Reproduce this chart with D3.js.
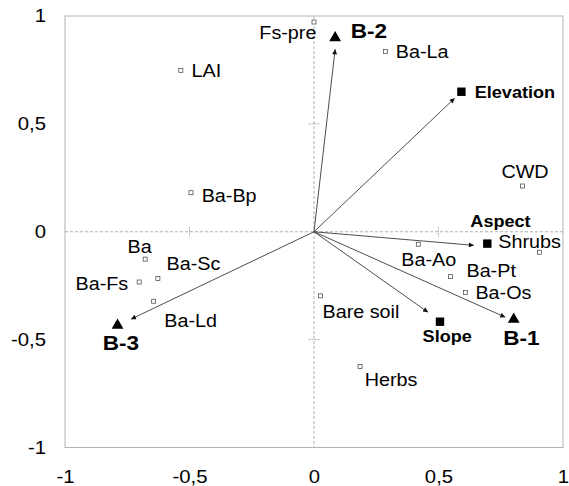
<!DOCTYPE html>
<html>
<head>
<meta charset="utf-8">
<script src="https://cdn.jsdelivr.net/npm/d3@7"></script>
<style>
html,body{margin:0;padding:0;background:#fff;}
svg{display:block;font-family:"Liberation Sans",Arial,sans-serif;}
</style>
</head>
<body>
<svg id="chart" width="569" height="486"></svg>
<script>
// ---------- data ----------
const xTicks = [-1, -0.5, 0, 0.5, 1];
const xTickLabels = ["-1", "-0,5", "0", "0,5", "1"];
const yTicks = [1, 0.5, 0, -0.5, -1];
const yTickLabels = ["1", "0,5", "0", "-0,5", "-1"];

// open squares (variables / species)
const varNames = ["Fs-pre", "LAI", "Ba-La", "Ba-Bp", "CWD", "Shrubs", "Ba-Ao", "Ba-Pt", "Ba-Os", "Bare soil", "Herbs", "Ba", "Ba-Fs", "Ba-Sc", "Ba-Ld"];
const varX = [0.000, -0.535, 0.287, -0.494, 0.837, 0.906, 0.419, 0.548, 0.608, 0.026, 0.185, -0.678, -0.702, -0.627, -0.644];
const varY = [0.972, 0.748, 0.835, 0.181, 0.212, -0.095, -0.058, -0.208, -0.282, -0.297, -0.625, -0.127, -0.233, -0.217, -0.322];

// filled squares (environmental factors)
const envNames = ["Elevation", "Aspect", "Slope"];
const envX = [0.592, 0.696, 0.506];
const envY = [0.649, -0.055, -0.417];

// triangles (plots)
const siteNames = ["B-1", "B-2", "B-3"];
const siteX = [0.802, 0.085, -0.789];
const siteY = [-0.406, 0.899, -0.434];

// arrows (from origin)
const arrowNames = ["B-2", "Elevation", "Aspect", "B-1", "Slope", "B-3"];
const arrowX = [0.085, 0.565, 0.642, 0.768, 0.458, -0.735];
const arrowY = [0.846, 0.619, -0.063, -0.396, -0.373, -0.405];

// ---------- layout / style ----------
const W = 569, H = 486;
const plot = {left: 65, right: 563, top: 16, bottom: 447.5};
const SX = 1.13; // horizontal text stretch of the original
// label offsets in px: [dx, dy, anchor]
const varLabelPos = {
  "Fs-pre": [2.4, 17.3, "end"], "LAI": [10.7, 7, "start"], "Ba-La": [10.3, 6.6, "start"],
  "Ba-Bp": [10.7, 9, "start"], "CWD": [2.6, -7.7, "middle"], "Shrubs": [-41.3, -4, "start"],
  "Ba-Ao": [-17, 21.4, "start"], "Ba-Pt": [16, 0, "start"], "Ba-Os": [10, 6.3, "start"],
  "Bare soil": [2, 22.3, "start"], "Herbs": [4.7, 19, "start"], "Ba": [-5.6, -6, "middle"],
  "Ba-Fs": [-11, 8, "end"], "Ba-Sc": [8.7, -8.7, "start"], "Ba-Ld": [10.6, 25.4, "start"]
};
const envLabelPos = {"Elevation": [13.3, 6.6, "start"], "Aspect": [13.2, -17, "middle"], "Slope": [7.2, 20, "middle"]};
const siteLabelPos = {"B-1": [7.7, 25.6, "middle"], "B-2": [15.5, 0.4, "start"], "B-3": [3.4, 24.6, "middle"]};

const x = d3.scaleLinear().domain([-1, 1]).range([plot.left, plot.right]);
const y = d3.scaleLinear().domain([-1, 1]).range([plot.bottom, plot.top]);

const svg = d3.select("#chart");

// frame
svg.append("rect")
  .attr("x", plot.left).attr("y", plot.top)
  .attr("width", plot.right - plot.left).attr("height", plot.bottom - plot.top)
  .attr("fill", "none").attr("stroke", "#b4b4b4").attr("stroke-width", 1);

// zero lines
const dashCol = "#b0b0b0";
svg.append("line").attr("x1", x(0)).attr("x2", x(0)).attr("y1", plot.top).attr("y2", plot.bottom)
  .attr("stroke", dashCol).attr("stroke-dasharray", "3,2");
svg.append("line").attr("x1", plot.left).attr("x2", plot.right).attr("y1", y(0)).attr("y2", y(0))
  .attr("stroke", dashCol).attr("stroke-dasharray", "3,2");
// cross ticks at +-0.5
[-0.5, 0.5].forEach(v => {
  svg.append("line").attr("x1", x(v)).attr("x2", x(v)).attr("y1", y(0) - 5).attr("y2", y(0) + 5)
    .attr("stroke", dashCol).attr("stroke-dasharray", "2,1");
  svg.append("line").attr("x1", x(0) - 5.5).attr("x2", x(0) + 5.5).attr("y1", y(v)).attr("y2", y(v))
    .attr("stroke", dashCol).attr("stroke-dasharray", "2,1");
});

// axes
const xAxis = d3.axisBottom(x).tickValues(xTicks).tickFormat((d, i) => xTickLabels[i]).tickSize(0).tickPadding(23);
const gx = svg.append("g").attr("transform", `translate(0,${plot.bottom})`).call(xAxis);
gx.select(".domain").remove();
gx.selectAll("text").attr("font-size", 18).attr("font-family", "Liberation Sans, Arial, sans-serif")
  .attr("fill", "#000").attr("transform", `scale(${SX},1)`);

const yAxis = d3.axisLeft(y).tickValues(yTicks).tickFormat((d, i) => yTickLabels[i]).tickSize(0).tickPadding(0);
const gy = svg.append("g").attr("transform", `translate(${plot.left},0)`).call(yAxis);
gy.select(".domain").remove();
gy.selectAll("text").attr("font-size", 18).attr("font-family", "Liberation Sans, Arial, sans-serif")
  .attr("fill", "#000").attr("x", -19 / SX).attr("transform", `scale(${SX},1)`);

// arrow marker
svg.append("defs").append("marker")
  .attr("id", "ah").attr("viewBox", "0 0 10 10").attr("refX", 10).attr("refY", 5)
  .attr("markerWidth", 7).attr("markerHeight", 5).attr("markerUnits", "userSpaceOnUse")
  .attr("orient", "auto")
  .append("path").attr("d", "M0,0 L10,5 L0,10 Z").attr("fill", "#111");

svg.append("g").selectAll("line").data(arrowNames).join("line")
  .attr("x1", x(0)).attr("y1", y(0))
  .attr("x2", (d, i) => x(arrowX[i])).attr("y2", (d, i) => y(arrowY[i]))
  .attr("stroke", "#3a3a3a").attr("stroke-width", 0.9)
  .attr("marker-end", "url(#ah)");

// label helper
function label(g, px, py, pos, text, size, weight) {
  g.append("text")
    .attr("transform", `translate(${px + pos[0]},${py + pos[1]}) scale(${SX},1)`)
    .attr("text-anchor", pos[2])
    .attr("font-size", size).attr("font-weight", weight).attr("fill", "#000")
    .text(text);
}

// open squares
const gv = svg.append("g");
gv.selectAll("rect").data(varNames).join("rect")
  .attr("x", (d, i) => x(varX[i]) - 2).attr("y", (d, i) => y(varY[i]) - 2)
  .attr("width", 4).attr("height", 4)
  .attr("fill", "#fff").attr("stroke", "#555").attr("stroke-width", 0.8);
varNames.forEach((n, i) => label(gv, x(varX[i]), y(varY[i]), varLabelPos[n], n, 17.5, "normal"));

// env squares
const ge = svg.append("g");
ge.selectAll("rect").data(envNames).join("rect")
  .attr("x", (d, i) => x(envX[i]) - 4.2).attr("y", (d, i) => y(envY[i]) - 4.2)
  .attr("width", 8.4).attr("height", 8.4).attr("fill", "#000");
envNames.forEach((n, i) => label(ge, x(envX[i]), y(envY[i]), envLabelPos[n], n, 16, "bold"));

// triangles
const gs = svg.append("g");
gs.selectAll("path").data(siteNames).join("path")
  .attr("d", d3.symbol(d3.symbolTriangle, 60)())
  .attr("transform", (d, i) => `translate(${x(siteX[i])},${y(siteY[i])})`)
  .attr("fill", "#000");
siteNames.forEach((n, i) => label(gs, x(siteX[i]), y(siteY[i]), siteLabelPos[n], n, 20, "bold"));
</script>
</body>
</html>
